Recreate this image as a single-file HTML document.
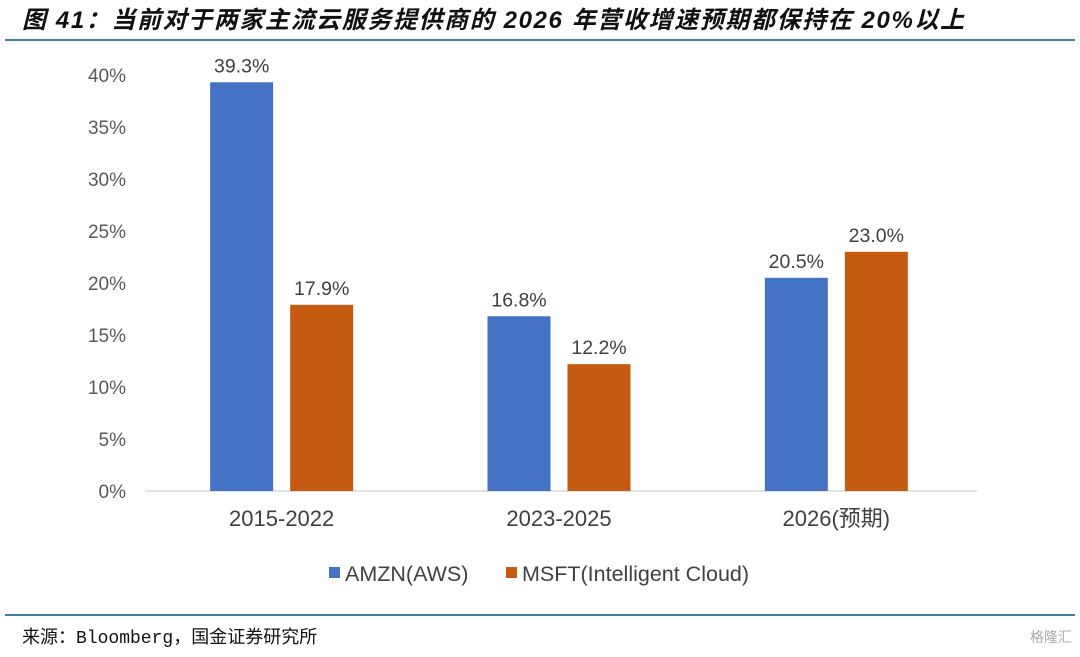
<!DOCTYPE html>
<html><head><meta charset="utf-8"><style>
body{margin:0;width:1080px;height:652px;background:#fff;overflow:hidden;font-family:"Liberation Sans","Noto Sans CJK SC",sans-serif}
</style></head><body>
<svg id="c" width="1080" height="652" xmlns="http://www.w3.org/2000/svg">
<text x="22" y="28" font-size="24" letter-spacing="1.6" font-weight="bold" font-style="italic" fill="#111" font-family="Liberation Sans,Noto Sans CJK SC,sans-serif">图 41：当前对于两家主流云服务提供商的 2026 年营收增速预期都保持在 20%以上</text>
<line x1="5" y1="40" x2="1075" y2="40" stroke="#3f7fa3" stroke-width="2"/>
<line x1="5" y1="615" x2="1075" y2="615" stroke="#3f7fa3" stroke-width="2"/>
<text x="22" y="643" font-size="18" fill="#111" font-family="Liberation Mono,Noto Sans CJK SC,monospace">来源：Bloomberg，国金证券研究所</text>
<text x="1072" y="642" font-size="14" fill="#aaa" text-anchor="end">格隆汇</text>
<g id="plot"></g>
</svg>
<script>
const categories=["2015-2022","2023-2025","2026(预期)"];
const amzn=[39.3,16.8,20.5];
const msft=[17.9,12.2,23.0];
const ticks=[0,5,10,15,20,25,30,35,40];
const seriesNames=["AMZN(AWS)","MSFT(Intelligent Cloud)"];
const colors=["#4472c4","#c55a11"];
const NS="http://www.w3.org/2000/svg";
const g=document.getElementById("plot");
const y0=491,pxPer=10.4,x0=143,x1=975;
const y=v=>y0-v*pxPer;
const groupW=(x1-x0)/categories.length;
const cx=i=>x0+groupW*(i+0.5);
function el(t,a,txt){const e=document.createElementNS(NS,t);for(const k in a)e.setAttribute(k,a[k]);if(txt!=null)e.textContent=txt;g.appendChild(e);return e;}
ticks.forEach(t=>{
 const e=el("text",{x:126,y:y(t)+7,"font-size":19,fill:"#595959","text-anchor":"end"},t+"%");
 
 
});
const ax=el("line",{x1:x0+2,y1:y0,x2:x1+2,y2:y0,stroke:"#d9d9d9","stroke-width":1.5});


const bw=63,gap=17;
[amzn,msft].forEach((s,si)=>{
 s.forEach((v,i)=>{
  const bx=cx(i)-gap/2-bw+si*(bw+gap);
  const r=el("rect",{x:bx,y:y(v),width:bw,height:y0-y(v),fill:colors[si]});
  
  
  const t=el("text",{x:bx+bw/2,y:y(v)-10,"font-size":19.5,fill:"#404040","text-anchor":"middle"},v.toFixed(1)+"%");
  
  
 });
});
categories.forEach((c,i)=>{
 const t=el("text",{x:cx(i),y:526,"font-size":22,fill:"#404040","text-anchor":"middle"},c);
 
 
});
const lx=[329,506];
seriesNames.forEach((n,i)=>{
 const r=el("rect",{x:lx[i],y:567,width:11,height:11,fill:colors[i]});
 
 
 const t=el("text",{x:lx[i]+16,y:581,"font-size":21.5,fill:"#404040"},n);
 
 
});
</script>
</body></html>
